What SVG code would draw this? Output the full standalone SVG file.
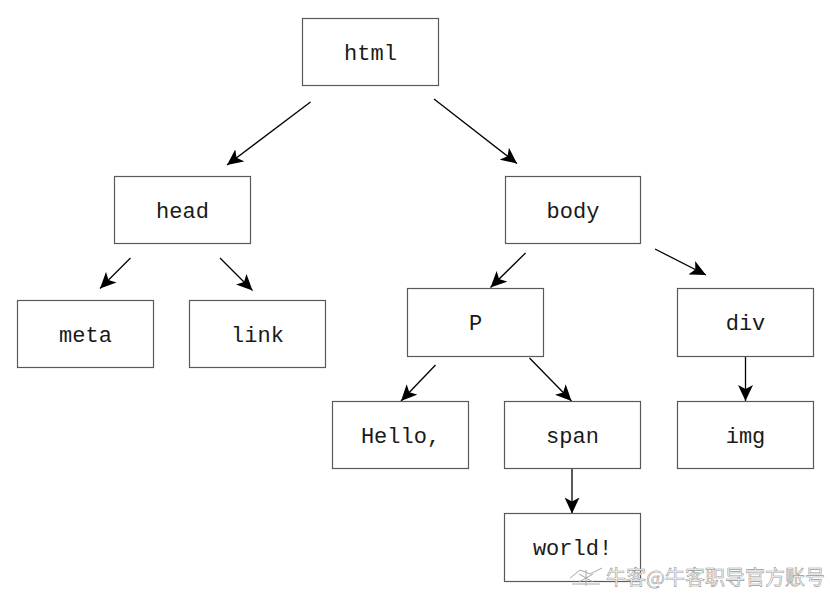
<svg xmlns="http://www.w3.org/2000/svg" width="830" height="597" viewBox="0 0 830 597">
<style>
.box rect{fill:#fff;stroke:#595959;stroke-width:1.2}
.box text{font-family:"Liberation Mono","DejaVu Sans Mono",monospace;font-size:22px;fill:#1a1a1a;text-anchor:middle}
#connectors line{stroke:#000;stroke-width:1.3;marker-end:url(#ah)}
.wm{font-family:"Noto Sans CJK SC",sans-serif;font-size:20px;fill:#fff;stroke:#9a9a9a;stroke-width:0.6}
</style>
<defs>
<marker id="ah" markerUnits="userSpaceOnUse" markerWidth="18" markerHeight="15" refX="16" refY="7.5" orient="auto">
<path d="M0,0 L16,7.5 L0,15 L4,7.5 Z" fill="#000"/>
</marker>
</defs>
<rect width="830" height="597" fill="#fff"/>
<g id="connectors">
<line x1="310.5" y1="102" x2="227" y2="165"/>
<line x1="434" y1="99" x2="517" y2="163.5"/>
<line x1="130.5" y1="258" x2="100" y2="288.5"/>
<line x1="220" y1="258" x2="252.5" y2="290.5"/>
<line x1="525.5" y1="253" x2="490.5" y2="287.5"/>
<line x1="655" y1="249" x2="706" y2="275"/>
<line x1="745.5" y1="356" x2="745.5" y2="401"/>
<line x1="435.5" y1="365" x2="401" y2="401"/>
<line x1="529.5" y1="358" x2="571.5" y2="401"/>
<line x1="572" y1="468" x2="572" y2="513.5"/>
</g>
<g id="html" class="box"><rect x="302.5" y="18.5" width="136" height="67"/><text x="370.5" y="60">html</text></g>
<g id="head" class="box"><rect x="114.5" y="176.5" width="136" height="67"/><text x="182.5" y="218">head</text></g>
<g id="body" class="box"><rect x="505.5" y="176.5" width="135" height="67"/><text x="573" y="218">body</text></g>
<g id="meta" class="box"><rect x="17.5" y="300.5" width="136" height="67"/><text x="85.5" y="342">meta</text></g>
<g id="link" class="box"><rect x="189.5" y="300.5" width="136" height="67"/><text x="257.5" y="342">link</text></g>
<g id="p" class="box"><rect x="407.5" y="288.5" width="136" height="68"/><text x="475.5" y="330">P</text></g>
<g id="div" class="box"><rect x="677.5" y="288.5" width="136" height="68"/><text x="745.5" y="330">div</text></g>
<g id="hello" class="box"><rect x="332.5" y="401.5" width="136" height="67"/><text x="400.5" y="443">Hello,</text></g>
<g id="span" class="box"><rect x="504.5" y="401.5" width="136" height="67"/><text x="572.5" y="443">span</text></g>
<g id="img" class="box"><rect x="677.5" y="401.5" width="136" height="67"/><text x="745.5" y="443">img</text></g>
<g id="world" class="box"><rect x="504.5" y="513.5" width="136" height="68"/><text x="572.5" y="555">world!</text></g>
<g id="watermark">
<path d="M570,578 L580,570 L590,574 L602,568 M572,584 L600,584 M586,570 L586,586 M579,574 L593,582 M593,574 L579,582" fill="none" stroke="#a8a8a8" stroke-width="1"/>
<text class="wm" x="606" y="585">牛客@牛客职导官方账号</text>
</g>
</svg>
